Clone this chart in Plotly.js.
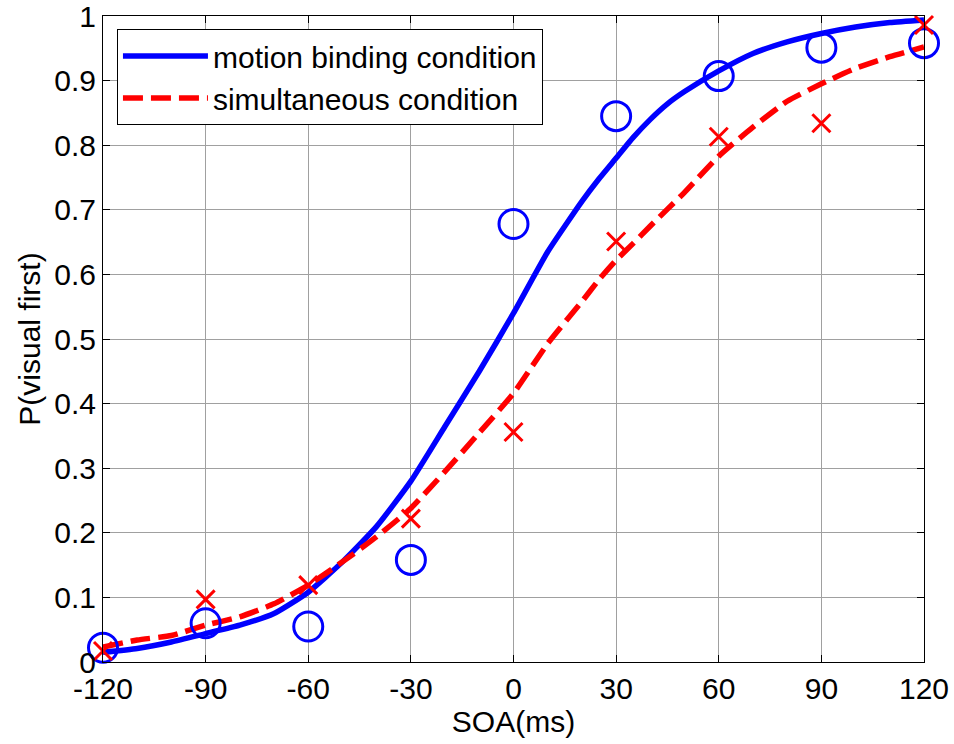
<!DOCTYPE html>
<html><head><meta charset="utf-8">
<script src="https://cdn.plot.ly/plotly-3.0.1.min.js"></script>
<style>html,body{margin:0;padding:0;background:#fff}#chart{width:954px;height:744px}</style>
</head><body><div id="chart"></div>
<script>
// Observed data
var soa = [-120, -90, -60, -30, 0, 30, 60, 90, 120];
var motionObs = [0.022, 0.060, 0.055, 0.158, 0.678, 0.845, 0.907, 0.951, 0.958];
var simulObs  = [0.017, 0.097, 0.119, 0.222, 0.356, 0.651, 0.813, 0.834, 0.986];

// Fitted curves
var fitX = [-120,-110,-100,-90,-80,-70,-60,-50,-40,-30,-20,-10,0,10,20,25,30,35,40,45,50,60,70,80,90,100,110,120];
var motionFit = [0.015,0.021,0.031,0.044,0.057,0.075,0.108,0.155,0.210,0.280,0.365,0.450,0.540,0.635,0.713,0.748,0.780,0.812,0.840,0.864,0.883,0.915,0.942,0.960,0.973,0.983,0.990,0.994];
var simulFit  = [0.023,0.034,0.041,0.057,0.070,0.090,0.119,0.155,0.194,0.238,0.295,0.355,0.416,0.493,0.558,0.592,0.622,0.648,0.675,0.701,0.727,0.783,0.828,0.868,0.895,0.919,0.937,0.952];

var xTicks = [-120,-90,-60,-30,0,30,60,90,120];
var yTicks = [0,0.1,0.2,0.3,0.4,0.5,0.6,0.7,0.8,0.9,1];

var BLUE = '#0000ff', RED = '#ff0000';
var FONT = 'Liberation Sans, Arial, sans-serif';
var FS = 30;

var traces = [
  {x: fitX, y: motionFit, mode: 'lines', name: 'motion binding condition',
   line: {color: BLUE, width: 5.5, shape: 'spline', smoothing: 0.5}},
  {x: fitX, y: simulFit, mode: 'lines', name: 'simultaneous condition',
   line: {color: RED, width: 5.5, dash: '20px,8px', shape: 'spline', smoothing: 0.5}},
  {x: soa, y: motionObs, mode: 'markers', showlegend: false, cliponaxis: false,
   marker: {symbol: 'circle-open', size: 29, color: BLUE, line: {color: BLUE, width: 3}}},
  {x: soa, y: simulObs, mode: 'markers', showlegend: false, cliponaxis: false,
   marker: {symbol: 'x-thin-open', size: 18, color: RED, line: {color: RED, width: 3}}}
];

var axisCommon = {
  showline: true, linecolor: '#000', linewidth: 1, mirror: 'ticks',
  ticks: 'inside', ticklen: 7, tickcolor: '#000', tickwidth: 1,
  showgrid: true, gridcolor: '#a0a0a0', gridwidth: 1, zeroline: false,
  ticklabeloverflow: 'allow',
  tickfont: {family: FONT, size: FS, color: '#000'}
};

var layout = {
  width: 954, height: 744,
  margin: {l: 103, r: 30, t: 16, b: 82},
  paper_bgcolor: '#fff', plot_bgcolor: '#fff',
  font: {family: FONT, size: FS, color: '#000'},
  xaxis: Object.assign({}, axisCommon, {
    range: [-120, 120], tickvals: xTicks, ticktext: xTicks.map(String),
    title: {text: 'SOA(ms)', font: {family: FONT, size: FS, color: '#000'}, standoff: 2}
  }),
  yaxis: Object.assign({}, axisCommon, {
    range: [0, 1], tickvals: yTicks, ticktext: yTicks.map(String),
    title: {text: 'P(visual first)', font: {family: FONT, size: FS, color: '#000'}, standoff: 4}
  }),
  showlegend: true,
  legend: {x: 0.017, y: 0.98, xanchor: 'left', yanchor: 'top',
    bgcolor: '#fff', bordercolor: '#000', borderwidth: 1,
    font: {family: FONT, size: FS, color: '#000'}, itemwidth: 85, tracegroupgap: 0}
};

Plotly.newPlot('chart', traces, layout, {displayModeBar: false, staticPlot: true});
</script>
</body></html>
